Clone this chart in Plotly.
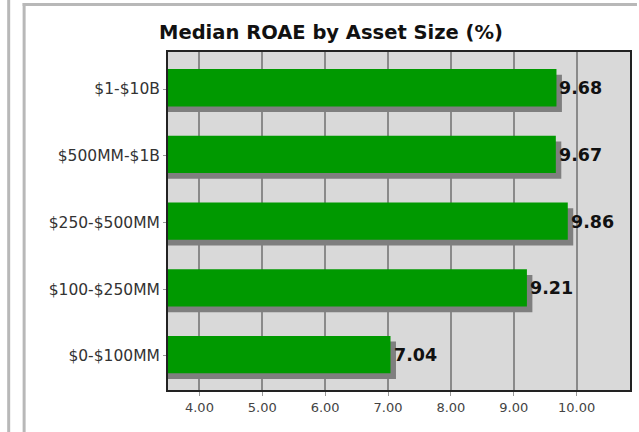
import plotly.graph_objects as go

# Median return on average equity, grouped by bank asset size
categories = ["$0-$100MM", "$100-$250MM", "$250-$500MM", "$500MM-$1B", "$1-$10B"]
roae = [7.04, 9.21, 9.86, 9.67, 9.68]
tick_vals = [4, 5, 6, 7, 8, 9, 10]
tick_text = ["4.00", "5.00", "6.00", "7.00", "8.00", "9.00", "10.00"]

W, H = 639, 432
L, R, T, B = 168, 7, 52, 42

BAR_W = 0.56
BAR_OFF = -0.26
SHADOW_DX = 0.087
SHADOW_DY = 0.085

FONT = "DejaVu Sans"

fig = go.Figure()

# drop shadow behind each bar
fig.add_trace(go.Bar(
    y=categories, x=roae, base=SHADOW_DX, orientation="h",
    width=BAR_W, offset=BAR_OFF - SHADOW_DY,
    marker=dict(color="#7f7f7f", line=dict(width=0)),
    hoverinfo="skip", showlegend=False,
))
# main bars
fig.add_trace(go.Bar(
    y=categories, x=roae, orientation="h",
    width=BAR_W, offset=BAR_OFF,
    marker=dict(color="#009900", line=dict(width=0)),
    showlegend=False,
))

# value labels just past the end of each bar
for cat, v in zip(categories, roae):
    fig.add_annotation(
        x=v, y=cat, xref="x", yref="y",
        text=f"<b>{v:.2f}</b>", showarrow=False,
        xanchor="left", yanchor="middle", xshift=1, yshift=1,
        font=dict(family=FONT, size=17.5, color="#111111"),
    )

fig.update_layout(
    width=W, height=H,
    margin=dict(l=L, r=R, t=T, b=B, pad=0),
    paper_bgcolor="white",
    plot_bgcolor="#d9d9d9",
    barmode="overlay",
    title=dict(
        text="<b>Median ROAE by Asset Size (%)</b>",
        font=dict(family=FONT, size=19.5, color="#111111"),
        x=331 / W, xref="container", xanchor="center",
        y=1 - 32 / H, yref="container", yanchor="middle",
    ),
    xaxis=dict(
        range=[3.5, 10.85],
        tickvals=tick_vals, ticktext=tick_text,
        showgrid=True, gridcolor="#8a8a8a", gridwidth=2,
        zeroline=False,
        showline=True, linecolor="#222222", linewidth=2, mirror=True,
        ticks="outside", ticklen=4, tickcolor="#999999", tickwidth=1,
        tickfont=dict(family=FONT, size=13, color="#444444"),
    ),
    yaxis=dict(
        type="category", categoryorder="array", categoryarray=categories,
        range=[-0.51, 4.555],
        showgrid=False, zeroline=False,
        showline=True, linecolor="#222222", linewidth=2, mirror=True,
        ticks="outside", ticklen=3, tickcolor="#999999", tickwidth=1,
        tickfont=dict(family=FONT, size=15.5, color="#333333"),
    ),
)

# surrounding panel frames
pw = W - L - R
ph = H - T - B
def px_x(p):
    return (p - L) / pw
def px_y(p):
    return 1 - (p - T) / ph

fig.add_shape(type="line", xref="paper", yref="paper",
              x0=px_x(8), x1=px_x(8), y0=px_y(0), y1=px_y(H),
              line=dict(color="#b8b8b8", width=3), layer="above")
fig.add_shape(type="line", xref="paper", yref="paper",
              x0=px_x(23.5), x1=px_x(23.5), y0=px_y(3), y1=px_y(H),
              line=dict(color="#b8b8b8", width=3), layer="above")
fig.add_shape(type="line", xref="paper", yref="paper",
              x0=px_x(22), x1=px_x(W), y0=px_y(4.5), y1=px_y(4.5),
              line=dict(color="#b8b8b8", width=3), layer="above")

fig.write_html("out.html")
